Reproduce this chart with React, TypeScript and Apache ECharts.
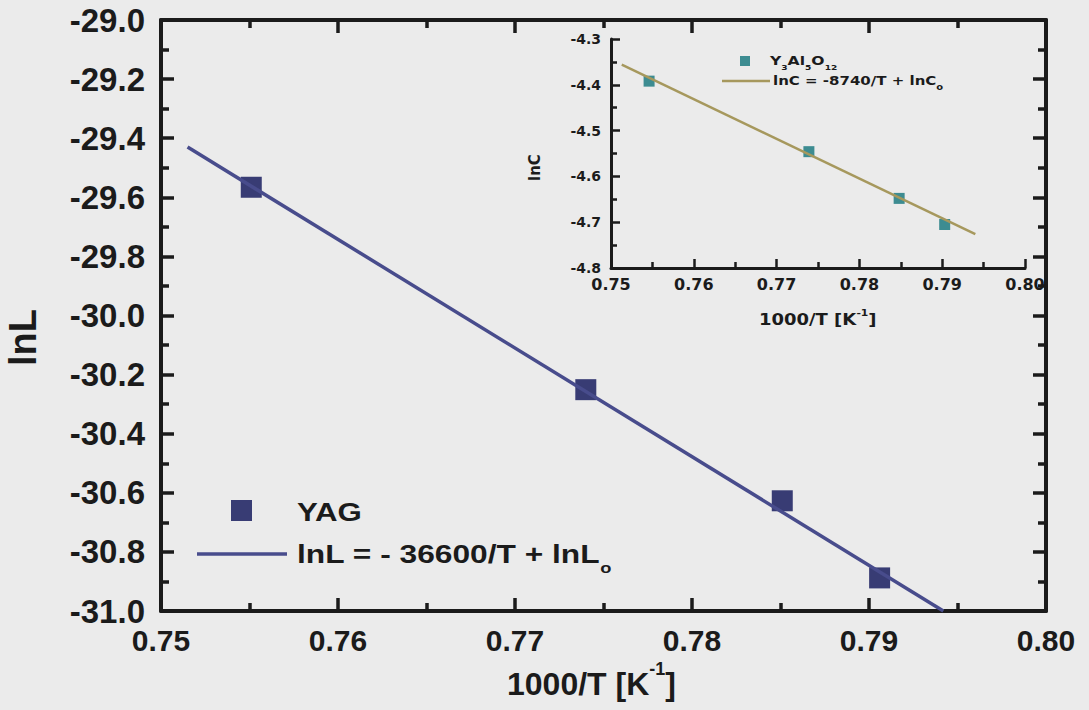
import React, { useEffect, useRef } from "react";
import * as echarts from "echarts";

// Main panel: ln L of YAG versus reciprocal temperature
const mainTemp = [0.7551, 0.774, 0.7851, 0.7906];
const mainLnL = [-29.566, -30.251, -30.627, -30.888];
// Arrhenius fit line, lnL = -36600/T + lnL0 (end points)
const mainFitTemp = [0.7515, 0.7942];
const mainFitLnL = [-29.43, -31.0];

// Inset: ln C of Y3Al5O12 versus reciprocal temperature
const insetTemp = [0.7546, 0.7739, 0.7848, 0.7903];
const insetLnC = [-4.392, -4.546, -4.648, -4.705];
// Fit line, lnC = -8740/T + lnC0 (end points)
const insetFitTemp = [0.7513, 0.794];
const insetFitLnC = [-4.356, -4.726];

// Axis ranges
const xRange = { min: 0.75, max: 0.8, step: 0.01 };
const mainYRange = { min: -31.0, max: -29.0, step: 0.2 };
const insetYRange = { min: -4.8, max: -4.3, step: 0.1 };

const BG = "#ebebeb";
const INK = "#1b1b1b";
const MAIN_MARK = "#383c74";
const MAIN_LINE = "#484c8c";
const INSET_MARK = "#3d8c91";
const INSET_LINE = "#a6985d";
const ARIAL = "Liberation Sans";
const DEJAVU = "DejaVu Sans";

const W = 1089;
const H = 710;
const mainRect = { left: 161, right: 43, top: 20, bottom: 99 };
const insetRect = { left: 611, right: 64, top: 39, bottom: 442 };

const pairs = (xs: number[], ys: number[]) => xs.map((x, i) => [x, ys[i]]);

type Range = { min: number; max: number; step: number };

// Value axis with inward major and minor ticks
const axis = (gridIndex: number, position: string, range: Range, inset: boolean, label: any) => ({
  type: "value",
  gridIndex,
  position,
  min: range.min,
  max: range.max,
  interval: range.step,
  axisLine: { show: true, onZero: false, lineStyle: { color: INK, width: inset ? 3 : 4 } },
  axisTick: { show: true, inside: true, length: inset ? 9 : 13, lineStyle: { color: INK, width: inset ? 2.5 : 3.5 } },
  minorTick: { show: true, splitNumber: 2, length: inset ? 6 : 8, lineStyle: { color: INK, width: inset ? 2.5 : 3.5 } },
  axisLabel: label,
  splitLine: { show: false },
});

const tickLabel = (family: string, size: number, margin: number, digits: number) => ({
  margin,
  color: INK,
  fontFamily: family,
  fontWeight: "bold",
  fontSize: size,
  formatter: (v: number) => v.toFixed(digits),
});

// Layer 1: both plots, their bottom/left axes and the data
const plotOption = {
  animation: false,
  backgroundColor: BG,
  grid: [{ ...mainRect }, { ...insetRect }],
  xAxis: [
    axis(0, "bottom", xRange, false, tickLabel(ARIAL, 30, 14, 2)),
    axis(1, "bottom", xRange, true, tickLabel(DEJAVU, 16, 8, 2)),
  ],
  yAxis: [
    axis(0, "left", mainYRange, false, tickLabel(ARIAL, 33, 16, 1)),
    axis(1, "left", insetYRange, true, tickLabel(DEJAVU, 14, 10, 1)),
  ],
  series: [
    {
      type: "line",
      xAxisIndex: 0,
      yAxisIndex: 0,
      data: pairs(mainFitTemp, mainFitLnL),
      showSymbol: false,
      lineStyle: { color: MAIN_LINE, width: 3.5 },
    },
    {
      type: "scatter",
      xAxisIndex: 0,
      yAxisIndex: 0,
      data: pairs(mainTemp, mainLnL),
      symbol: "rect",
      symbolSize: 21,
      itemStyle: { color: MAIN_MARK, opacity: 1 },
    },
    {
      type: "scatter",
      xAxisIndex: 1,
      yAxisIndex: 1,
      data: pairs(insetTemp, insetLnC),
      symbol: "rect",
      symbolSize: 11,
      itemStyle: { color: INSET_MARK, opacity: 1 },
    },
    {
      type: "line",
      xAxisIndex: 1,
      yAxisIndex: 1,
      data: pairs(insetFitTemp, insetFitLnC),
      showSymbol: false,
      lineStyle: { color: INSET_LINE, width: 2.5 },
    },
  ],
};

// Layer 2: top and right axes closing the main frame
const frameOption = {
  animation: false,
  backgroundColor: "transparent",
  grid: [{ ...mainRect }],
  xAxis: [axis(0, "top", xRange, false, { show: false })],
  yAxis: [axis(0, "right", mainYRange, false, { show: false })],
  series: [],
};

const sub = (family: string, size: number, lh: number, align: string) => ({
  fontFamily: family,
  fontWeight: "bold",
  fontSize: size,
  lineHeight: lh,
  verticalAlign: align,
  fill: INK,
});

// Layer 3: titles and legends
const textOption = {
  animation: false,
  backgroundColor: "transparent",
  graphic: [
    {
      type: "text",
      x: 4,
      y: 366,
      rotation: Math.PI / 2,
      style: { text: "lnL", fill: INK, fontFamily: ARIAL, fontWeight: "bold", fontSize: 38 },
    },
    {
      type: "text",
      x: 507,
      y: 660,
      style: {
        text: "1000/T [K{sup|-1}]",
        fill: INK,
        fontFamily: ARIAL,
        fontWeight: "bold",
        fontSize: 32,
        lineHeight: 48,
        rich: { sup: sub(ARIAL, 18, 30, "top") },
      },
    },
    {
      type: "rect",
      shape: { x: 231, y: 500, width: 21, height: 21 },
      style: { fill: MAIN_MARK },
    },
    {
      type: "text",
      x: 297,
      y: 498,
      scaleX: 1.2,
      style: { text: "YAG", fill: INK, fontFamily: ARIAL, fontWeight: "bold", fontSize: 26, lineHeight: 28 },
    },
    {
      type: "line",
      shape: { x1: 197, y1: 554, x2: 287, y2: 554 },
      style: { stroke: MAIN_LINE, lineWidth: 3.5 },
    },
    {
      type: "text",
      x: 297,
      y: 532,
      scaleX: 1.22,
      style: {
        text: "lnL = - 36600/T + lnL{sub|o}",
        fill: INK,
        fontFamily: ARIAL,
        fontWeight: "bold",
        fontSize: 26,
        lineHeight: 44,
        rich: { sub: sub(ARIAL, 15, 22, "bottom") },
      },
    },
    {
      type: "text",
      x: 527,
      y: 181,
      rotation: Math.PI / 2,
      style: { text: "lnC", fill: INK, fontFamily: DEJAVU, fontWeight: "bold", fontSize: 15 },
    },
    {
      type: "text",
      x: 759,
      y: 308,
      scaleX: 1.2,
      style: {
        text: "1000/T [K{sup|-1}]",
        fill: INK,
        fontFamily: DEJAVU,
        fontWeight: "bold",
        fontSize: 15,
        lineHeight: 24,
        rich: { sup: sub(DEJAVU, 9, 15, "top") },
      },
    },
    {
      type: "rect",
      shape: { x: 740, y: 56, width: 10, height: 10 },
      style: { fill: INSET_MARK },
    },
    {
      type: "text",
      x: 770,
      y: 51,
      scaleX: 1.3,
      style: {
        text: "Y{sub|3}Al{sub|5}O{sub|12}",
        fill: INK,
        fontFamily: DEJAVU,
        fontWeight: "bold",
        fontSize: 12,
        lineHeight: 20,
        rich: { sub: sub(DEJAVU, 7, 11, "bottom") },
      },
    },
    {
      type: "line",
      shape: { x1: 722, y1: 81, x2: 770, y2: 81 },
      style: { stroke: INSET_LINE, lineWidth: 2.5 },
    },
    {
      type: "text",
      x: 773,
      y: 71,
      scaleX: 1.25,
      style: {
        text: "lnC = -8740/T + lnC{sub|o}",
        fill: INK,
        fontFamily: DEJAVU,
        fontWeight: "bold",
        fontSize: 12,
        lineHeight: 20,
        rich: { sub: sub(DEJAVU, 8, 12, "bottom") },
      },
    },
  ],
};

function Layer({ option }: { option: any }) {
  const ref = useRef<HTMLDivElement>(null);
  useEffect(() => {
    if (!ref.current) return;
    const chart = echarts.init(ref.current, null, { renderer: "svg" });
    chart.setOption(option);
    return () => chart.dispose();
  }, [option]);
  return (
    <div
      ref={ref}
      style={{ position: "absolute", left: 0, top: 0, width: W, height: H, pointerEvents: "none" }}
    />
  );
}

export default function App() {
  return (
    <div style={{ position: "absolute", left: 0, top: 0, width: W, height: H, background: BG }}>
      <Layer option={plotOption} />
      <Layer option={frameOption} />
      <Layer option={textOption} />
    </div>
  );
}
